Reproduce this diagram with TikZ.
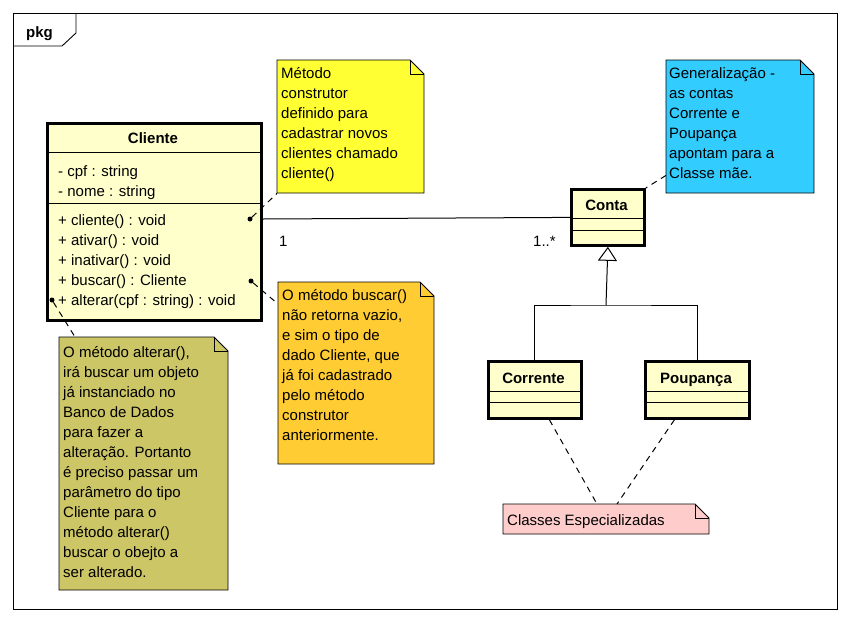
\documentclass[tikz,border=0pt]{standalone}
\usepackage{fontspec}
\setmainfont{Liberation Sans}
\usetikzlibrary{arrows.meta}
\definecolor{clsfill}{RGB}{255,255,204}
\definecolor{nyellow}{RGB}{255,255,51}
\definecolor{norange}{RGB}{255,204,51}
\definecolor{nolive}{RGB}{204,198,102}
\definecolor{nblue}{RGB}{51,204,255}
\definecolor{npink}{RGB}{255,204,204}
\tikzset{
  txt/.style={anchor=base west, inner sep=0pt, font=\fontsize{15}{17}\selectfont},
  btxt/.style={anchor=base, inner sep=0pt, font=\fontsize{15}{17}\selectfont\bfseries},
  cls/.style={draw, line width=2.8pt, fill=clsfill, inner sep=0pt, anchor=north west},
  sep/.style={line width=1pt},
  notebg/.style={inner sep=0pt, anchor=north west, draw=none},
  noteline/.style={line width=0.9pt, line join=miter},
  dashc/.style={line width=1pt, dash pattern=on 6pt off 5pt},
  dot/.style={circle, fill=black, inner sep=0pt, minimum size=5pt},
  assoc/.style={line width=1pt},
}
% #1 name, #2 x1, #3 y1, #4 x2, #5 y2, #6 colour
\newcommand\mynote[6]{%
  \node[notebg, minimum width=#4-#2, minimum height=#5-#3] (#1) at (#2,#3) {};
  \filldraw[noteline, fill=#6] (#2,#3) -- (#4-14,#3) -- (#4,#3+14) -- (#4,#5) -- (#2,#5) -- cycle;
  \draw[noteline] (#4-14,#3) -- (#4-14,#3+14) -- (#4,#3+14);
}
\begin{document}
\begin{tikzpicture}[x=1pt,y=-1pt]
\useasboundingbox (0,0) rectangle (850,624);
% frame
\draw[line width=0.9pt] (13,13) rectangle (837,609);
\draw[line width=0.9pt] (13,46) -- (62,46) -- (76,33) -- (76,13);
\node[btxt, anchor=base west] (pkg) at (26,37) {pkg};

\coordinate (jn) at (606,305);

% Cliente class
\node[cls, minimum width=214pt, minimum height=197pt] (cliente) at (46,122) {};
\draw[sep] (46,152) -- (260,152);
\draw[sep] (46,203) -- (260,203);
\node[btxt] (cname) at (153,143) {Cliente};
\node[txt] (a1) at (58,176) {- cpf : string};
\node[txt] (a2) at (58,196) {- nome : string};
\node[txt] (m1) at (58,225) {+ cliente() : void};
\node[txt] (m2) at (58,245) {+ ativar() : void};
\node[txt] (m3) at (58,265) {+ inativar() : void};
\node[txt] (m4) at (58,285) {+ buscar() : Cliente};
\node[txt] (m5) at (58,305) {+ alterar(cpf : string) : void};
\node[dot] (d1) at (250,219) {};
\node[dot] (d2) at (251,281) {};
\node[dot] (d3) at (52,300) {};

% Conta
\node[cls, minimum width=73pt, minimum height=56pt] (conta) at (570,188) {};
\draw[sep] (570,218) -- (643,218);
\draw[sep] (570,230) -- (643,230);
\node[btxt] (cotxt) at (606.5,210) {Conta};

% Corrente
\node[cls, minimum width=93pt, minimum height=57pt] (corrente) at (487,360) {};
\draw[sep] (487,391) -- (580,391);
\draw[sep] (487,402) -- (580,402);
\node[btxt] (crtxt) at (533.5,383) {Corrente};

% Poupanca
\node[cls, minimum width=104pt, minimum height=57pt] (poupanca) at (644,360) {};
\draw[sep] (644,391) -- (748,391);
\draw[sep] (644,402) -- (748,402);
\node[btxt] (pptxt) at (696,383) {Poupança};

% association
\draw[assoc] (cliente.east |- d1) -- (conta.west);
\node[txt] (mult1) at (279,246) {1};
\node[txt] (mult2) at (533,246) {1..*};

% generalization
\draw[assoc] (corrente.north) |- (jn) -| (poupanca.north);
\draw[assoc, -{Triangle[open, length=14pt, width=19pt, line width=1pt, fill=white]}] (jn) -- (conta.south);

% notes
\mynote{n1}{277}{60}{424}{193}{nyellow}
\foreach \t [count=\i] in {Método, construtor, definido para, cadastrar novos, clientes chamado, cliente()}
  \node[txt] (n1t\i) at (281,{78+20*(\i-1)}) {\t};

\mynote{n2}{278}{282}{434}{464}{norange}
\foreach \t [count=\i] in {O método buscar(), {não retorna vazio,}, e sim o tipo de, {dado Cliente, que}, já foi cadastrado, pelo método, construtor, anteriormente.}
  \node[txt] (n2t\i) at (282,{300+20*(\i-1)}) {\t};

\mynote{n3}{59}{337}{228}{590}{nolive}
\foreach \t [count=\i] in {{O método alterar(),}, irá buscar um objeto, já instanciado no, Banco de Dados, para fazer a, alteração. Portanto, é preciso passar um, parâmetro do tipo, Cliente para o, método alterar(), buscar o obejto a, ser alterado.}
  \node[txt] (n3t\i) at (63,{357+20*(\i-1)}) {\t};

\mynote{n4}{666}{60}{814}{193}{nblue}
\foreach \t [count=\i] in {Generalização -, as contas, Corrente e, Poupança, apontam para a, Classe mãe.}
  \node[txt] (n4t\i) at (669,{78+20*(\i-1)}) {\t};

\mynote{n5}{503}{504}{709}{534}{npink}
\node[txt] (n5t) at (507,525) {Classes Especializadas};

% note connectors
\draw[dashc] (d1) -- (n1.south west);
\draw[dashc] (d2) -- ([yshift=-22pt]n2.north west);
\draw[dashc] (d3) -- ([xshift=16pt]n3.north west);
\draw[dashc] ([yshift=18pt]n4.south west) -- (conta.north east);
\draw[dashc] ([xshift=14.5pt]corrente.south) -- ([xshift=94pt]n5.north west);
\draw[dashc] ([xshift=-23pt]poupanca.south) -- ([xshift=114pt]n5.north west);
\end{tikzpicture}
\end{document}
